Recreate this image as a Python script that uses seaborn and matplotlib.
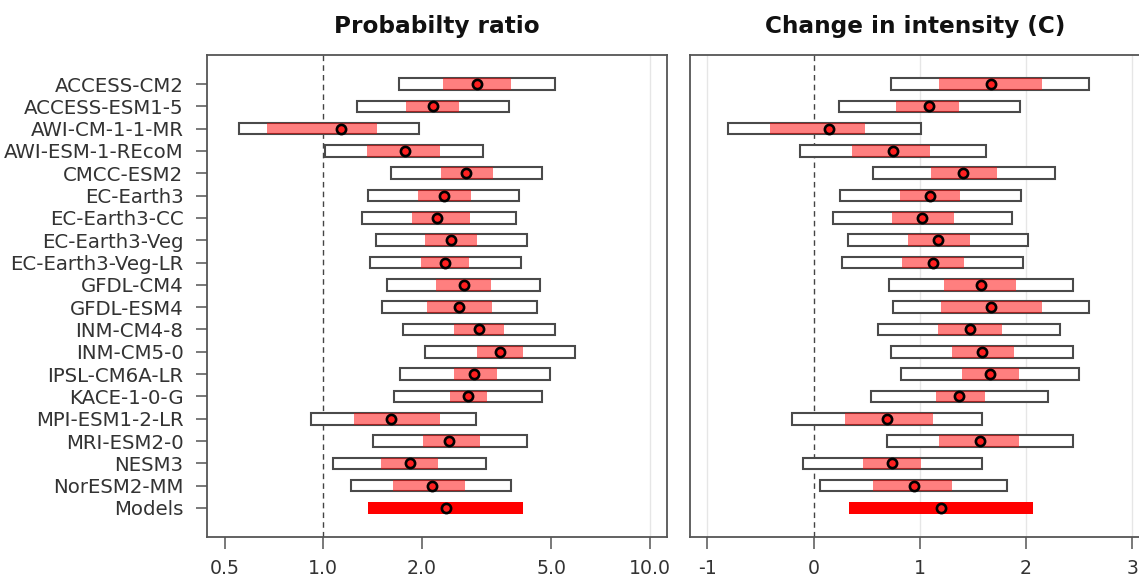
import numpy as np
import pandas as pd
import matplotlib
matplotlib.use("Agg")
import matplotlib.pyplot as plt
import seaborn as sns

# ===== Data =====
models = ["ACCESS-CM2", "ACCESS-ESM1-5", "AWI-CM-1-1-MR", "AWI-ESM-1-REcoM",
          "CMCC-ESM2", "EC-Earth3", "EC-Earth3-CC", "EC-Earth3-Veg",
          "EC-Earth3-Veg-LR", "GFDL-CM4", "GFDL-ESM4", "INM-CM4-8", "INM-CM5-0",
          "IPSL-CM6A-LR", "KACE-1-0-G", "MPI-ESM1-2-LR", "MRI-ESM2-0", "NESM3",
          "NorESM2-MM"]

# probability ratio: outer interval, inner interval, best estimate
pr_lo = [1.71, 1.27, 0.55, 1.01, 1.61, 1.37, 1.31, 1.45, 1.39, 1.57, 1.51, 1.76, 2.05, 1.72, 1.65, 0.92, 1.42, 1.07, 1.22]
pr_lo_in = [2.33, 1.79, 0.67, 1.36, 2.30, 1.95, 1.87, 2.05, 1.99, 2.22, 2.08, 2.52, 2.96, 2.51, 2.45, 1.24, 2.02, 1.50, 1.64]
pr_best = [2.96, 2.17, 1.13, 1.78, 2.74, 2.34, 2.23, 2.46, 2.36, 2.69, 2.61, 2.99, 3.48, 2.90, 2.78, 1.61, 2.43, 1.84, 2.15]
pr_hi_in = [3.75, 2.61, 1.46, 2.27, 3.30, 2.83, 2.82, 2.96, 2.80, 3.27, 3.28, 3.58, 4.09, 3.40, 3.18, 2.27, 3.02, 2.25, 2.72]
pr_hi = [5.14, 3.71, 1.97, 3.09, 4.69, 3.99, 3.88, 4.21, 4.03, 4.61, 4.52, 5.12, 5.92, 4.94, 4.69, 2.94, 4.20, 3.15, 3.75]
pr_models = [1.37, 2.37, 4.09]  # lo, best, hi

# change in intensity (C)
di_lo = [0.73, 0.24, -0.81, -0.13, 0.56, 0.25, 0.18, 0.32, 0.27, 0.71, 0.75, 0.61, 0.73, 0.82, 0.54, -0.20, 0.69, -0.10, 0.06]
di_lo_in = [1.18, 0.78, -0.41, 0.36, 1.11, 0.81, 0.74, 0.89, 0.83, 1.23, 1.20, 1.17, 1.30, 1.40, 1.15, 0.30, 1.18, 0.47, 0.56]
di_best = [1.67, 1.09, 0.15, 0.75, 1.41, 1.10, 1.02, 1.17, 1.12, 1.58, 1.67, 1.47, 1.59, 1.66, 1.37, 0.69, 1.57, 0.74, 0.95]
di_hi_in = [2.15, 1.37, 0.48, 1.10, 1.73, 1.38, 1.32, 1.47, 1.42, 1.91, 2.15, 1.77, 1.89, 1.93, 1.61, 1.12, 1.93, 1.01, 1.30]
di_hi = [2.59, 1.94, 1.01, 1.62, 2.27, 1.95, 1.87, 2.02, 1.97, 2.44, 2.59, 2.32, 2.44, 2.50, 2.21, 1.59, 2.44, 1.59, 1.82]
di_models = [0.33, 1.20, 2.07]

labels = models + ["Models"]

sns.set_theme(style="white")
plt.rcParams["font.family"] = ["DejaVu Sans"]

fig = plt.figure(figsize=(11.39, 5.87), dpi=100)
W, H = 1139, 587
ax1 = fig.add_axes([207 / W, 50 / H, 459.7 / W, 482 / H])
ax2 = fig.add_axes([690 / W, 50 / H, 451 / W, 482 / H])

BOX_H = 0.52
FRAME = "#555555"


def draw_panel(ax, lo, lo_in, best, hi_in, hi, mdl, ref, title):
    y = np.arange(len(lo))
    lo, lo_in, best = np.array(lo), np.array(lo_in), np.array(best)
    hi_in, hi = np.array(hi_in), np.array(hi)
    ax.axvline(ref, color="#444444", lw=1.0, ls=(0, (4, 3)), zorder=1)
    # outer interval: white box
    ax.barh(y, hi - lo, left=lo, height=BOX_H, color="white",
            edgecolor="#4a4a4a", linewidth=1.5, zorder=2)
    # inner interval: transparent red
    ax.barh(y, hi_in - lo_in, left=lo_in, height=BOX_H, color="red",
            alpha=0.5, linewidth=0, zorder=3)
    # multi-model synthesis
    ym = len(lo)
    ax.barh([ym], [mdl[2] - mdl[0]], left=[mdl[0]], height=BOX_H,
            color="#ff0000", linewidth=0, zorder=3)
    pts = pd.DataFrame({"x": list(best) + [mdl[1]], "y": list(y) + [ym]})
    sns.scatterplot(data=pts, x="x", y="y", ax=ax, s=44, color="#ff2020",
                    edgecolor="black", linewidth=1.9, zorder=4, legend=False)
    ax.set_ylim(len(lo) + 1.3, -1.3)
    ax.set_title(title, fontsize=16.7, fontweight="bold", pad=15.5,
                 color="#111111")
    ax.set_xlabel("")
    ax.set_ylabel("")
    for s in ax.spines.values():
        s.set_color(FRAME)
        s.set_linewidth(1.3)
    ax.tick_params(axis="x", direction="out", length=8.5, width=1.1,
                   color=FRAME, labelsize=13.6, labelcolor="#333333", pad=7,
                   bottom=True)


draw_panel(ax1, pr_lo, pr_lo_in, pr_best, pr_hi_in, pr_hi, pr_models, 1.0,
           "Probabilty ratio")
ax1.set_xscale("log")
ax1.set_xlim(0.4403, 11.27)
ax1.set_xticks([0.5, 1.0, 2.0, 5.0, 10.0])
ax1.set_xticklabels(["0.5", "1.0", "2.0", "5.0", "10.0"])
ax1.minorticks_off()
ax1.axvline(10.0, color="#e6e6e6", lw=1.0, zorder=0)
ax1.set_yticks(np.arange(len(labels)))
ax1.set_yticklabels(labels)
ax1.tick_params(axis="y", direction="out", length=8, width=1.1, color=FRAME,
                labelsize=14.2, labelcolor="#333333", pad=9, left=True)

draw_panel(ax2, di_lo, di_lo_in, di_best, di_hi_in, di_hi, di_models, 0.0,
           "Change in intensity (C)")
ax2.set_xlim(-1.163, 3.082)
ax2.set_xticks([-1, 0, 1, 2, 3])
ax2.set_xticklabels(["-1", "0", "1", "2", "3"])
for g in [-1, 1, 2, 3]:
    ax2.axvline(g, color="#e6e6e6", lw=1.0, zorder=0)
ax2.set_yticks([])

fig.savefig("out.png", dpi=100)
